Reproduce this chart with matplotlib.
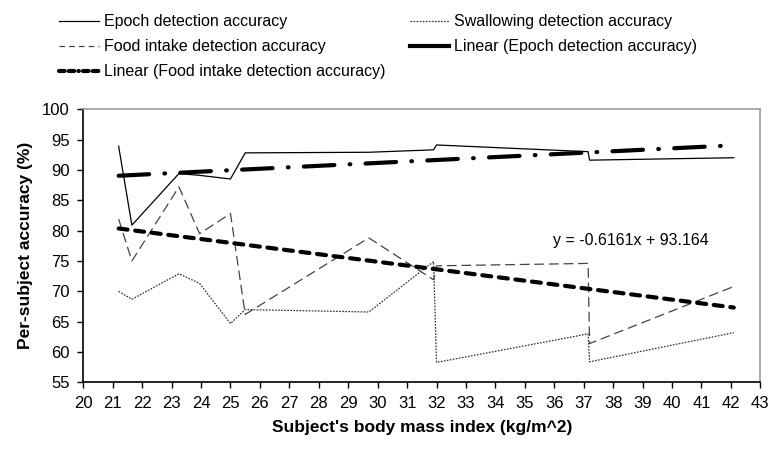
import numpy as np
import matplotlib
matplotlib.use("Agg")
import matplotlib.pyplot as plt
from matplotlib.lines import Line2D

plt.rcParams['font.family'] = ['Liberation Sans', 'DejaVu Sans']
plt.rcParams['lines.scale_dashes'] = False

# -----------------------------
# DATA
# -----------------------------
bmi = [21.2, 21.65, 23.25, 23.95, 25.0, 25.5, 29.7, 31.9, 32.0, 37.15, 37.2, 42.1]
epoch_acc = [93.9, 80.9, 89.4, 89.1, 88.5, 92.8, 92.9, 93.3, 94.1, 93.0, 91.6, 92.0]
food_acc = [81.9, 75.0, 87.2, 79.5, 82.8, 66.2, 78.8, 71.9, 74.2, 74.6, 61.4, 70.8]
swallow_acc = [70.0, 68.7, 72.9, 71.3, 64.7, 67.0, 66.6, 74.9, 58.3, 63.0, 58.4, 63.2]
food_eq_text = "y = -0.6161x + 93.164"

x_ticks = list(range(20, 44))
y_ticks = list(range(55, 101, 5))

# -----------------------------
# LINEAR TRENDS
# -----------------------------
x = np.array(bmi)
x_fit = np.array([x.min(), x.max()])
ep_coef = np.polyfit(x, epoch_acc, 1)
fd_coef = np.polyfit(x, food_acc, 1)

# -----------------------------
# PLOT
# -----------------------------
fig = plt.figure(figsize=(7.75, 4.51), dpi=100)
ax = fig.add_axes([0.1075, 0.152, 0.8735, 0.606])

ax.plot(bmi, epoch_acc, color='black', lw=0.9, zorder=3)
ax.plot(bmi, swallow_acc, color='#333333', lw=0.9, linestyle=(0, (1.2, 1.0)), zorder=3)
ax.plot(bmi, food_acc, color='#444444', lw=0.9, linestyle=(0, (7, 3.5)), zorder=3)
ax.plot(x_fit, np.polyval(ep_coef, x_fit), color='black', lw=3.0,
        linestyle=(0, (22, 11, 0.5, 11)), dash_capstyle='round', zorder=4)
ax.plot(x_fit, np.polyval(fd_coef, x_fit), color='black', lw=3.0,
        linestyle=(0, (6.5, 5.5)), dash_capstyle='round', zorder=4)

ax.text(35.95, 78.3, food_eq_text, fontsize=11.5, ha='left', va='center')

ax.set_xlim(20, 43)
ax.set_ylim(55, 100)
ax.set_xticks(x_ticks)
ax.set_yticks(y_ticks)
ax.tick_params(direction='out', length=4, width=1, labelsize=12, pad=6)
for s in ['left', 'bottom']:
    ax.spines[s].set_color('black')
    ax.spines[s].set_linewidth(1.2)
for s in ['top', 'right']:
    ax.spines[s].set_color('#a0a0a0')
    ax.spines[s].set_linewidth(1.2)

ax.set_xlabel("Subject's body mass index (kg/m^2)", fontsize=12.5, fontweight='bold', labelpad=6)
ax.set_ylabel("Per-subject accuracy (%)", fontsize=12.5, fontweight='bold', labelpad=6)

# legend
handles = [
    Line2D([], [], color='black', lw=0.9),
    Line2D([], [], color='#444444', lw=0.9, linestyle=(0, (4, 3))),
    Line2D([], [], color='black', lw=3.0, linestyle=(0, (4, 3, 4, 3, 0.3, 3)), dash_capstyle='round'),
    Line2D([], [], color='#333333', lw=0.9, linestyle=(0, (1.2, 1.0))),
    Line2D([], [], color='black', lw=3.0),
]
labels = ["Epoch detection accuracy", "Food intake detection accuracy",
          "Linear (Food intake detection accuracy)",
          "Swallowing detection accuracy", "Linear (Epoch detection accuracy)"]
fig.legend(handles, labels, loc='upper left', bbox_to_anchor=(0.058, 1.0), ncol=2,
           frameon=False, fontsize=11.5, handlelength=2.5, handletextpad=0.3,
           labelspacing=0.62, columnspacing=1.5)

fig.savefig("out.png", dpi=100)
